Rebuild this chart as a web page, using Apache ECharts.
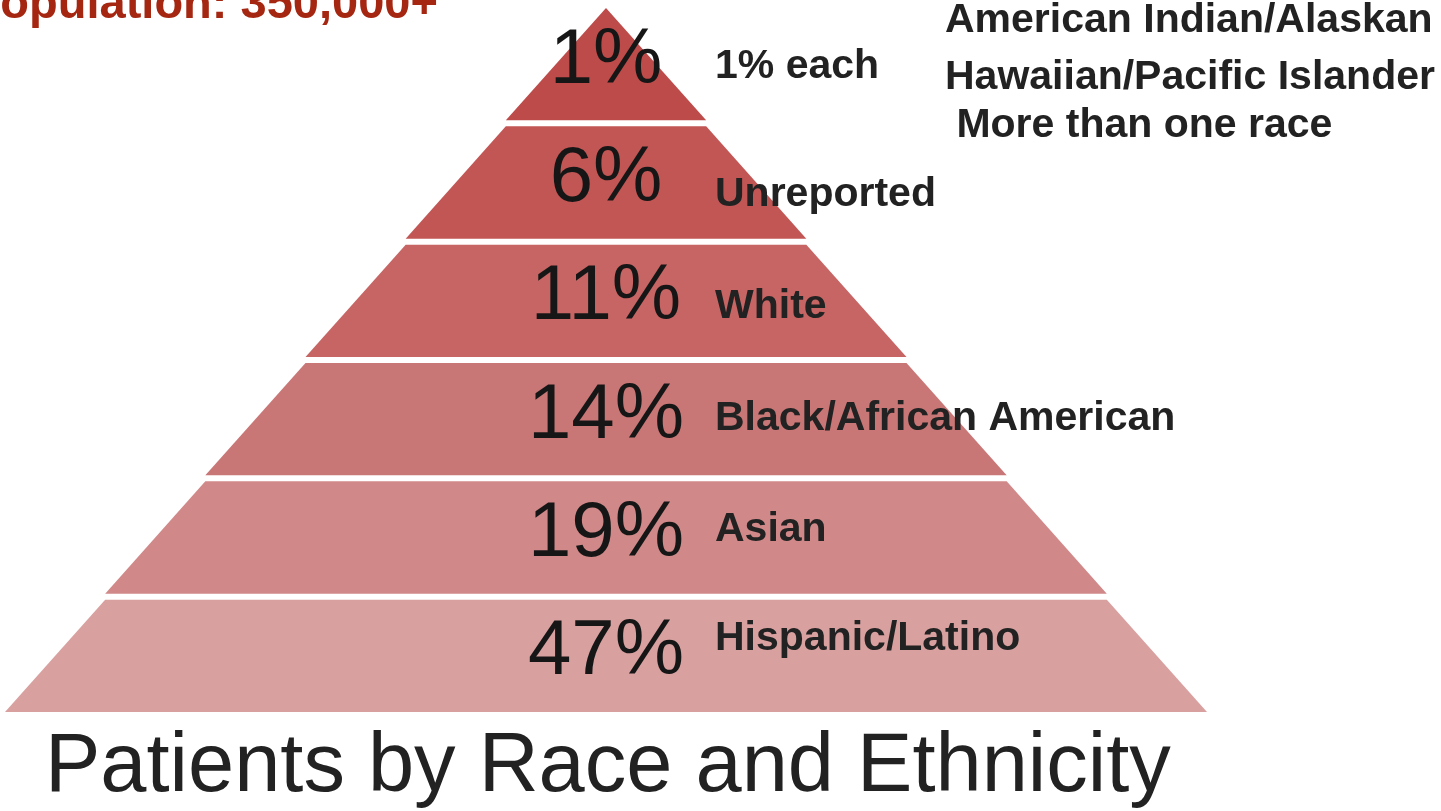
<!DOCTYPE html>
<html>
<head>
<meta charset="utf-8">
<style>
  html, body { margin: 0; padding: 0; background: #ffffff; }
  #chart { width: 1441px; height: 811px; }
</style>
<script src="https://cdn.jsdelivr.net/npm/echarts@6/dist/echarts.min.js"></script>
</head>
<body>
<div id="chart"></div>
<script>
// ---- data (top tier to bottom tier) ----
const tiers = ['1% each', 'Unreported', 'White', 'Black/African American', 'Asian', 'Hispanic/Latino'];
const percents = [1, 6, 11, 14, 19, 47];
const eachGroup = ['American Indian/Alaskan', 'Hawaiian/Pacific Islander', ' More than one race'];
const chartTitle = 'Patients by Race and Ethnicity';
const populationText = 'Population: 350,000+';

// ---- style ----
const tierColors = ['#bd4b4a', '#c25655', '#c66564', '#c97676', '#d08888', '#d9a0a0'];
const nameShiftY = [3, 12, 6, 0, -8, -17];
const nameShiftX = 369;
const nameBoxWidth = 520;
const groupTops = [0, 57, 105];

// pyramid level: top tier is level 1, bottom tier is the widest level
const levelData = tiers.map((name, i) => ({
  name: name,
  value: i + 1,
  itemStyle: { color: tierColors[i] }
}));
const nameData = tiers.map((name, i) => ({ name: name, value: i + 1 }));

// rich styles shifting each name label to its place right of the percentage
const nameRich = {};
tiers.forEach((t, i) => {
  const dy = nameShiftY[i];
  nameRich['n' + i] = {
    width: nameBoxWidth,
    align: 'left',
    padding: [dy > 0 ? 2 * dy : 0, 0, dy < 0 ? -2 * dy : 0, 2 * nameShiftX],
    fontFamily: 'Liberation Sans',
    fontWeight: 'bold',
    fontSize: 41,
    color: '#222222'
  };
});

const common = {
  type: 'funnel',
  left: 5,
  top: 8,
  width: 1202,
  height: 704,
  min: 0,
  max: tiers.length,
  minSize: '0%',
  maxSize: '100%',
  sort: 'ascending',
  gap: 6,
  silent: true,
  labelLine: { show: false },
  emphasis: { disabled: true },
  animation: false
};

const chart = echarts.init(document.getElementById('chart'), null, { renderer: 'canvas' });
chart.setOption({
  backgroundColor: '#ffffff',
  animation: false,
  title: [
    {
      text: populationText, left: -31, top: -18, padding: 0,
      textStyle: { fontFamily: 'Liberation Sans', fontWeight: 'bold', fontSize: 47, color: '#a52712' }
    },
    {
      text: chartTitle, left: 45, top: 727, padding: 0,
      textStyle: { fontFamily: 'Liberation Sans', fontWeight: 'normal', fontSize: 83, color: '#222222' }
    }
  ].concat(eachGroup.map((t, i) => ({
    text: t, left: 945, top: groupTops[i], padding: 0,
    textStyle: { fontFamily: 'Liberation Sans', fontWeight: 'bold', fontSize: 41, color: '#222222' }
  }))),
  series: [
    Object.assign({}, common, {
      name: 'shares',
      data: levelData,
      itemStyle: { borderWidth: 0 },
      label: {
        show: true,
        position: 'inside',
        formatter: p => '{p|' + percents[p.dataIndex] + '%}',
        rich: {
          p: {
            fontFamily: 'Liberation Sans',
            fontSize: 78,
            color: '#161616',
            padding: [0, 0, 6, 0]
          }
        }
      }
    }),
    Object.assign({}, common, {
      name: 'names',
      z: 3,
      data: nameData,
      itemStyle: { color: 'rgba(0,0,0,0)', borderWidth: 0 },
      label: {
        show: true,
        position: 'inside',
        formatter: p => '{n' + p.dataIndex + '|' + p.name + '}',
        rich: nameRich
      }
    })
  ]
});
</script>
</body>
</html>
